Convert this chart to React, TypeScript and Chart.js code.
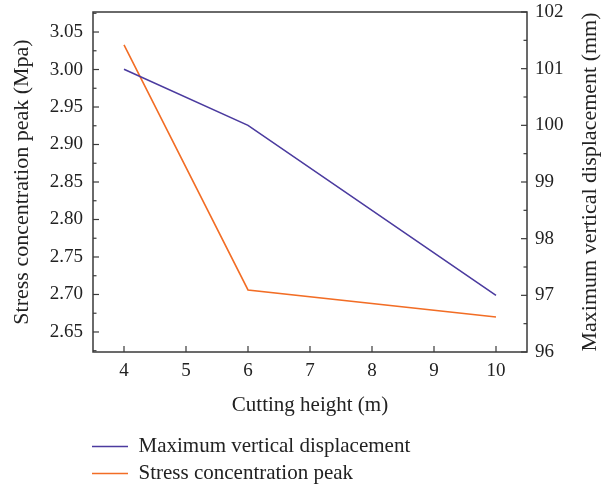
import React, { useEffect, useRef } from "react";
import { Chart, registerables } from "chart.js";

Chart.register(...registerables);

const cuttingHeight = [4, 6, 10];
const maxVerticalDisplacement = [100.99, 100.0, 97.0];
const stressConcentrationPeak = [3.033, 2.706, 2.67];
const seriesNames = ["Maximum vertical displacement", "Stress concentration peak"];
const xTickValues = [4, 5, 6, 7, 8, 9, 10];
const yLeftTickValues = [2.65, 2.7, 2.75, 2.8, 2.85, 2.9, 2.95, 3.0, 3.05];
const yRightTickValues = [96, 97, 98, 99, 100, 101, 102];
const xTitle = "Cutting height (m)";
const yLeftTitle = "Stress concentration peak (Mpa)";
const yRightTitle = "Maximum vertical displacement (mm)";

const FONT = "'Liberation Serif', 'Times New Roman', serif";
const TEXT = "#222222";
const FRAME = "#3a3a3a";
const BLUE = "#4b3b9f";
const ORANGE = "#f26d25";

const setTicks = (values: number[]) => (scale: any) => {
  scale.ticks = values.map((v) => ({ value: v }));
};

const fixY = (width: number) => (s: any) => {
  s.width = width;
  s.paddingTop = 0;
  s.paddingBottom = 0;
};

const frameTicks = {
  id: "frameTicks",
  afterLayout(chart: any) {
    if (chart.legend) {
      const shift = 7;
      chart.legend.left -= shift;
      chart.legend.right -= shift;
    }
  },
  afterDraw(chart: any) {
    const { ctx, chartArea } = chart;
    const { left, right, top, bottom } = chartArea;
    ctx.save();
    ctx.strokeStyle = FRAME;
    ctx.lineWidth = 1.5;
    ctx.strokeRect(left, top, right - left, bottom - top);
    ctx.lineWidth = 1.2;
    const drawY = (scale: any, side: number, edge: number) => {
      const ticks = scale.ticks.map((t: any) => t.value);
      const step = ticks.length > 1 ? ticks[1] - ticks[0] : 1;
      const minors: number[] = [];
      for (let v = ticks[0] - step / 2; v <= scale.max + 1e-9; v += step) {
        if (v >= scale.min - 1e-9) minors.push(v);
      }
      ticks.forEach((v: number) => {
        const y = scale.getPixelForValue(v);
        ctx.beginPath();
        ctx.moveTo(edge, y);
        ctx.lineTo(edge + side * 6, y);
        ctx.stroke();
      });
      minors.forEach((v: number) => {
        const y = scale.getPixelForValue(v);
        ctx.beginPath();
        ctx.moveTo(edge, y);
        ctx.lineTo(edge + side * 3.5, y);
        ctx.stroke();
      });
    };
    drawY(chart.scales.yL, 1, left);
    drawY(chart.scales.yR, -1, right);
    chart.scales.x.ticks.forEach((t: any) => {
      const x = chart.scales.x.getPixelForValue(t.value);
      ctx.beginPath();
      ctx.moveTo(x, bottom);
      ctx.lineTo(x, bottom - 6);
      ctx.stroke();
    });
    // right axis title, reading bottom-to-top like the left one
    ctx.fillStyle = TEXT;
    ctx.font = `22px ${FONT}`;
    ctx.textAlign = "center";
    ctx.textBaseline = "middle";
    ctx.translate(590, (top + bottom) / 2);
    ctx.rotate(-Math.PI / 2);
    ctx.fillText(yRightTitle, 0, 0);
    ctx.restore();
  },
};

export default function App() {
  const ref = useRef<HTMLCanvasElement>(null);
  useEffect(() => {
    document.body.style.margin = "0";
    const chart = new Chart(ref.current as HTMLCanvasElement, {
      type: "line",
      data: {
        datasets: [
          {
            label: seriesNames[0],
            data: cuttingHeight.map((x, i) => ({ x, y: maxVerticalDisplacement[i] })),
            borderColor: BLUE,
            backgroundColor: BLUE,
            borderWidth: 1.6,
            pointRadius: 0,
            yAxisID: "yR",
            tension: 0,
          },
          {
            label: seriesNames[1],
            data: cuttingHeight.map((x, i) => ({ x, y: stressConcentrationPeak[i] })),
            borderColor: ORANGE,
            backgroundColor: ORANGE,
            borderWidth: 1.6,
            pointRadius: 0,
            yAxisID: "yL",
            tension: 0,
          },
        ],
      },
      options: {
        animation: false,
        responsive: false,
        maintainAspectRatio: false,
        layout: { autoPadding: false, padding: { top: 12, left: 0, right: 0, bottom: -9 } },
        plugins: {
          tooltip: { enabled: false },
          legend: {
            position: "bottom",
            align: "start",
            fullSize: false,
            labels: {
              font: { family: FONT, size: 21 },
              color: TEXT,
              usePointStyle: true,
              pointStyle: "line",
              pointStyleWidth: 36,
              padding: 6,
            },
          },
        },
        scales: {
          x: {
            type: "linear",
            min: 3.5,
            max: 10.5,
            afterBuildTicks: setTicks(xTickValues),
            ticks: { font: { family: FONT, size: 19 }, color: TEXT, padding: 8 },
            grid: { display: false, drawTicks: false },
            border: { display: false },
            title: { display: true, text: xTitle, font: { family: FONT, size: 21 }, color: TEXT, padding: { top: 0, bottom: 12 } },
            afterFit: (s: any) => { s.height = 78; s.paddingLeft = 0; s.paddingRight = 0; },
          },
          yL: {
            type: "linear",
            position: "left",
            min: 2.6233,
            max: 3.0767,
            afterBuildTicks: setTicks(yLeftTickValues),
            ticks: {
              font: { family: FONT, size: 19 },
              color: TEXT,
              padding: 10,
              callback: (v: any) => Number(v).toFixed(2),
            },
            grid: { display: false, drawTicks: false },
            border: { display: false },
            title: { display: true, text: yLeftTitle, font: { family: FONT, size: 22 }, color: TEXT, padding: { top: 9, bottom: 0 } },
            afterFit: fixY(93),
          },
          yR: {
            type: "linear",
            position: "right",
            min: 96,
            max: 102,
            afterBuildTicks: setTicks(yRightTickValues),
            ticks: { font: { family: FONT, size: 19 }, color: TEXT, padding: 8 },
            grid: { display: false, drawTicks: false },
            border: { display: false },
            title: { display: false },
            afterFit: fixY(75),
          },
        },
      },
      plugins: [frameTicks],
    });
    return () => chart.destroy();
  }, []);
  return <canvas ref={ref} width={602} height={485} style={{ display: "block" }} />;
}
